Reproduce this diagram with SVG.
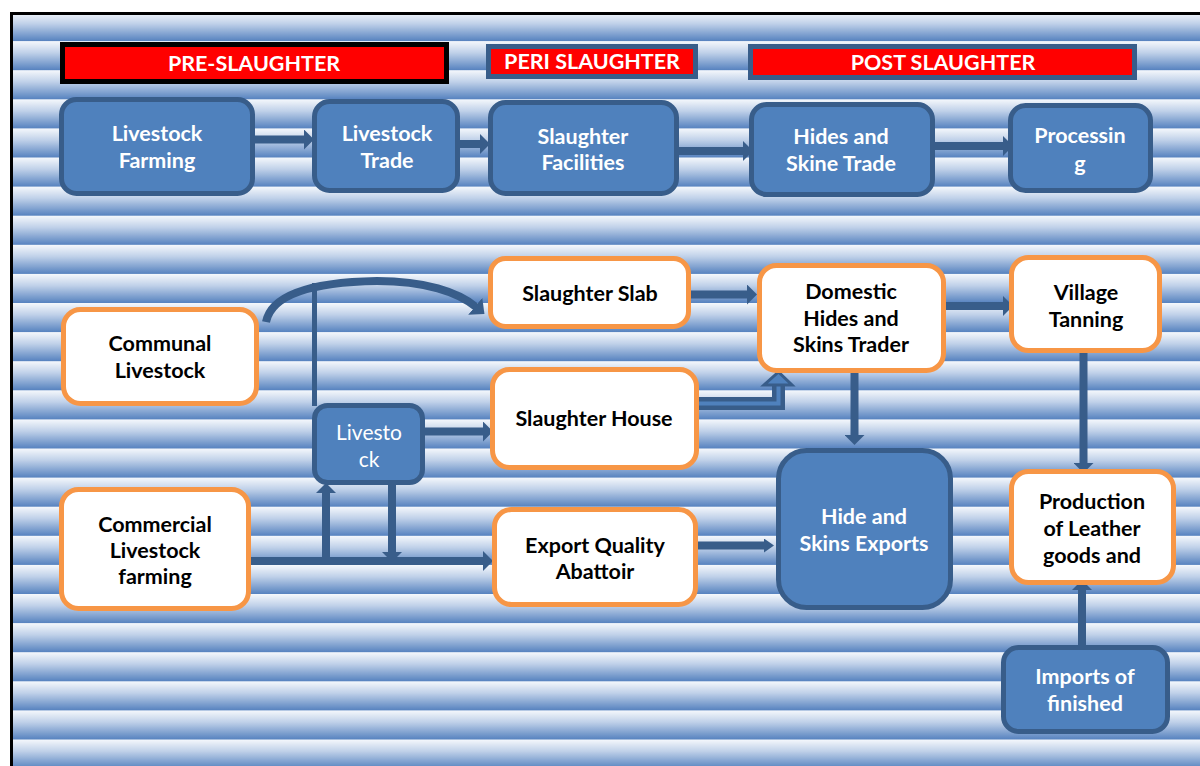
<svg xmlns="http://www.w3.org/2000/svg" width="1200" height="766" viewBox="0 0 1200 766">
<defs>
<linearGradient id="sg" x1="0" y1="0" x2="0" y2="1">
<stop offset="0" stop-color="#f5f8fc"/>
<stop offset="0.4" stop-color="#c0d1e9"/>
<stop offset="1" stop-color="#5682bf"/>
</linearGradient>
<pattern id="stripes" patternUnits="userSpaceOnUse" x="0" y="12" width="1200" height="29.1">
<rect x="0" y="0" width="1200" height="29.1" fill="url(#sg)"/>
</pattern>
<marker id="ah" markerUnits="userSpaceOnUse" viewBox="0 0 10 20" markerWidth="10" markerHeight="20" refX="0" refY="10" orient="auto">
<path d="M0,0 L10,10 L0,20 Z" fill="#385d8a"/>
</marker>
<marker id="ahs" markerUnits="userSpaceOnUse" viewBox="0 0 10 14" markerWidth="10" markerHeight="14" refX="0" refY="7" orient="auto">
<path d="M0,0 L10,7 L0,14 Z" fill="#385d8a"/>
</marker>
<marker id="ahc" markerUnits="userSpaceOnUse" viewBox="0 0 12 22" markerWidth="12" markerHeight="22" refX="1" refY="11" orient="auto">
<path d="M0,0 L12,11 L0,22 Z" fill="#385d8a"/>
</marker>
</defs>
<style>
.hdr{font-family:Lato,"Liberation Sans",sans-serif;font-weight:bold;font-size:21.5px;fill:#ffffff;text-anchor:middle}
.bn rect{fill:#4f81bd;stroke:#385d8a;stroke-width:5}
.wn rect{fill:#ffffff;stroke:#f79646;stroke-width:5}
.bt{font-family:Lato,"Liberation Sans",sans-serif;font-weight:bold;font-size:21.5px;fill:#ffffff;text-anchor:middle}
.wt{font-family:Lato,"Liberation Sans",sans-serif;font-weight:bold;font-size:21.5px;fill:#000000;text-anchor:middle}
.rt{font-family:Lato,"Liberation Sans",sans-serif;font-weight:normal;font-size:21px;fill:#ffffff;text-anchor:middle}
.c{fill:none;stroke:#385d8a;stroke-width:8}
</style>
<rect x="0" y="0" width="1200" height="766" fill="#ffffff"/>
<rect x="11.5" y="13.5" width="1200" height="760" fill="url(#stripes)" stroke="#000000" stroke-width="3"/>

<g id="hdr-pre">
<rect x="62.5" y="44.5" width="384" height="37" fill="#ff0000" stroke="#000000" stroke-width="5"/>
<text class="hdr" x="254" y="71">PRE-SLAUGHTER</text>
</g>
<g id="hdr-peri">
<rect x="488.5" y="46.5" width="207" height="30" fill="#ff0000" stroke="#385d8a" stroke-width="5"/>
<text class="hdr" x="592" y="69">PERI SLAUGHTER</text>
</g>
<g id="hdr-post">
<rect x="750.5" y="46.5" width="384" height="31" fill="#ff0000" stroke="#385d8a" stroke-width="5"/>
<text class="hdr" x="943" y="70">POST SLAUGHTER</text>
</g>

<g id="connectors">
<line class="c" x1="255" y1="139.5" x2="304" y2="139.5" marker-end="url(#ah)"/>
<line class="c" x1="460" y1="144" x2="480" y2="144" marker-end="url(#ah)"/>
<line class="c" x1="679" y1="151" x2="743" y2="151" marker-end="url(#ah)"/>
<line class="c" x1="935" y1="146" x2="1003" y2="146" marker-end="url(#ah)"/>
<path class="c" d="M 266 322 C 272 292, 320 282, 377 281 C 425 281, 458 292, 476 307" marker-end="url(#ahc)"/>
<line x1="314.5" y1="283" x2="314.5" y2="406" stroke="#385d8a" stroke-width="5"/>
<line class="c" x1="691" y1="294.5" x2="747" y2="294.5" marker-end="url(#ah)"/>
<line class="c" x1="946" y1="306" x2="1003" y2="306" marker-end="url(#ah)"/>
<line class="c" x1="854.5" y1="373" x2="854.5" y2="435" marker-end="url(#ah)"/>
<line class="c" x1="1083.5" y1="353" x2="1083.5" y2="463" marker-end="url(#ah)"/>
<line class="c" x1="1082" y1="645" x2="1082" y2="590" marker-end="url(#ah)"/>
<line class="c" x1="425" y1="431.5" x2="483" y2="431.5" marker-end="url(#ah)"/>
<line class="c" x1="251" y1="561" x2="483" y2="561" marker-end="url(#ah)"/>
<line class="c" x1="326" y1="561" x2="326" y2="493" marker-end="url(#ah)"/>
<line class="c" x1="392" y1="485" x2="392" y2="552" marker-end="url(#ah)"/>
<line x1="698" y1="545.5" x2="764" y2="545.5" stroke="#385d8a" stroke-width="8" marker-end="url(#ahs)"/>
<path d="M 697 403.5 H 778.5 V 384" fill="none" stroke="#385d8a" stroke-width="13"/>
<path d="M 699 403.5 H 778.5 V 386" fill="none" stroke="#4f81bd" stroke-width="4"/>
<path d="M 764 385 L 792 385 L 778.5 372 Z" fill="#4f81bd" stroke="#385d8a" stroke-width="3"/>
</g>

<g id="n-livestock-farming" class="bn">
<rect x="61.5" y="99.5" width="191" height="94" rx="15"/>
<text class="bt" x="157" y="141">Livestock</text>
<text class="bt" x="157" y="168">Farming</text>
</g>
<g id="n-livestock-trade" class="bn">
<rect x="314.5" y="101.5" width="143" height="89" rx="15"/>
<text class="bt" x="387" y="141">Livestock</text>
<text class="bt" x="387" y="168">Trade</text>
</g>
<g id="n-slaughter-facilities" class="bn">
<rect x="490.5" y="102.5" width="186" height="91" rx="15"/>
<text class="bt" x="583" y="144">Slaughter</text>
<text class="bt" x="583" y="170">Facilities</text>
</g>
<g id="n-hides-trade" class="bn">
<rect x="751.5" y="104.5" width="181" height="90" rx="15"/>
<text class="bt" x="841" y="144">Hides and</text>
<text class="bt" x="841" y="171">Skine Trade</text>
</g>
<g id="n-processing" class="bn">
<rect x="1010.5" y="105.5" width="140" height="85" rx="15"/>
<text class="bt" x="1080" y="143">Processin</text>
<text class="bt" x="1080" y="171">g</text>
</g>

<g id="n-communal" class="wn">
<rect x="63.5" y="309.5" width="193" height="94" rx="17"/>
<text class="wt" x="160" y="351">Communal</text>
<text class="wt" x="160" y="378">Livestock</text>
</g>
<g id="n-commercial" class="wn">
<rect x="61.5" y="489.5" width="187" height="119" rx="17"/>
<text class="wt" x="155" y="532">Commercial</text>
<text class="wt" x="155" y="558">Livestock</text>
<text class="wt" x="155" y="584">farming</text>
</g>
<g id="n-slab" class="wn">
<rect x="490.5" y="258.5" width="198" height="68" rx="15"/>
<text class="wt" x="590" y="301">Slaughter Slab</text>
</g>
<g id="n-house" class="wn">
<rect x="492.5" y="369.5" width="204" height="98" rx="17"/>
<text class="wt" x="594" y="426">Slaughter House</text>
</g>
<g id="n-domestic" class="wn">
<rect x="759.5" y="265.5" width="184" height="105" rx="17"/>
<text class="wt" x="851" y="299">Domestic</text>
<text class="wt" x="851" y="326">Hides and</text>
<text class="wt" x="851" y="352">Skins Trader</text>
</g>
<g id="n-village" class="wn">
<rect x="1011.5" y="257.5" width="148" height="93" rx="17"/>
<text class="wt" x="1086" y="300">Village</text>
<text class="wt" x="1086" y="327">Tanning</text>
</g>
<g id="n-export-abattoir" class="wn">
<rect x="494.5" y="509.5" width="201" height="95" rx="17"/>
<text class="wt" x="595" y="553">Export Quality</text>
<text class="wt" x="595" y="579">Abattoir</text>
</g>
<g id="n-production" class="wn">
<rect x="1011.5" y="471.5" width="162" height="111" rx="17"/>
<text class="wt" x="1092" y="509">Production</text>
<text class="wt" x="1092" y="536">of Leather</text>
<text class="wt" x="1092" y="563">goods and</text>
</g>

<g id="n-livestock" class="bn">
<rect x="314.5" y="405.5" width="108" height="77" rx="13"/>
<text class="rt" x="369" y="440">Livesto</text>
<text class="rt" x="369" y="467">ck</text>
</g>
<g id="n-exports" class="bn">
<rect x="778.5" y="450.5" width="172" height="157" rx="28"/>
<text class="bt" x="864" y="524">Hide and</text>
<text class="bt" x="864" y="551">Skins Exports</text>
</g>
<g id="n-imports" class="bn">
<rect x="1003.5" y="647.5" width="164" height="84" rx="15"/>
<text class="bt" x="1085" y="684">Imports of</text>
<text class="bt" x="1085" y="711">finished</text>
</g>
</svg>
